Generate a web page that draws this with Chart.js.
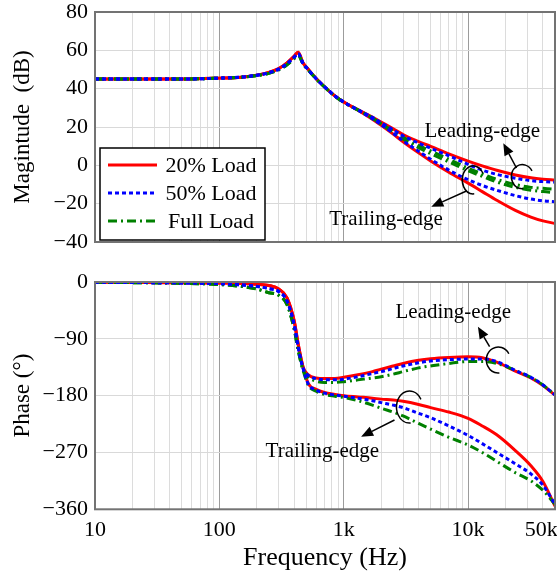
<!DOCTYPE html>
<html>
<head>
<meta charset="utf-8">
<script src="https://cdn.jsdelivr.net/npm/chart.js@4"></script>
<style>
  body { margin: 0; background: #fff; }
  #wrap { position: relative; width: 557px; height: 575px; }
  canvas { position: absolute; left: 0; }
  #magChart { top: 0; }
  #phaseChart { top: 250px; }
</style>
</head>
<body>
<div id="wrap">
  <canvas id="magChart" width="557" height="250"></canvas>
  <canvas id="phaseChart" width="557" height="325"></canvas>
</div>
<script>
// frequency points (Hz)
const freq = [10, 20, 50, 100, 150, 200, 250, 300, 350, 400, 430, 470, 520, 600, 700, 850, 1000,
  1300, 1700, 2000, 2500, 3000, 4000, 5000, 7000, 10000, 13000, 17000, 24000, 32000, 40000, 50000];

// magnitude (dB)
const magLead20 = [45, 45, 45, 45.5, 46, 47, 48.5, 50.5, 53.5, 57, 59, 53.5, 50, 45.3, 41, 36.2, 33,
  29.1, 25.2, 22.6, 19, 16.1, 12.4, 9.9, 6, 2.2, -0.3, -2.6, -5, -6.5, -7.2, -7.6];
const magLead50 = [45, 45, 45, 45.5, 46, 47, 48.3, 50.2, 53, 56.5, 58.3, 53.3, 49.8, 45.2, 41, 36.2, 33,
  29, 25, 22.2, 18.5, 15.4, 11.6, 8.9, 5, 0.5, -2.5, -4.7, -6.7, -8, -8.5, -8.8];
const magLeadFull = [45, 45, 45, 45.5, 46, 46.8, 48, 49.8, 52.5, 55.8, 57.5, 53, 49.6, 45.1, 40.9, 36.1, 32.9,
  28.9, 24.8, 21.8, 17.8, 14.6, 10.4, 7.5, 3.2, -1.5, -4.5, -7.3, -10, -11.5, -12, -12.5];
const magTrail20 = [45, 45, 45, 45.5, 46, 47, 48.5, 50.5, 53.5, 57, 59, 53.5, 50, 45.3, 41, 36.2, 33,
  28.8, 24.1, 20.9, 16.3, 12.3, 6.5, 2.3, -3.6, -9.3, -13.7, -18.2, -23.5, -27, -29, -30.3];
const magTrail50 = [45, 45, 45, 45.5, 46, 47, 48.3, 50.2, 53, 56.5, 58.3, 53.3, 49.8, 45.2, 41, 36.2, 33,
  28.8, 24.3, 21.2, 16.7, 12.8, 7.3, 3.2, -2.5, -7.5, -10.5, -13, -15.8, -17.6, -18.5, -19];
const magTrailFull = [45, 45, 45, 45.5, 46, 46.8, 48, 49.8, 52.5, 55.8, 57.5, 53, 49.6, 45.1, 40.9, 36.1, 32.9,
  28.9, 24.6, 21.5, 17.2, 13.7, 9.2, 6.1, 1.8, -2.8, -5.8, -8.7, -11.5, -13, -13.7, -14.2];

// phase (deg)
const phLead20 = [-0.5, -0.7, -1, -1.5, -2, -3.5, -5.5, -11, -25, -62, -98, -134, -147, -152, -153, -153, -151,
  -147, -142, -138, -133, -129, -124, -121.5, -119.5, -118.5, -120, -127, -141, -152, -164, -179];
const phLead50 = [-0.5, -0.8, -1.5, -2.5, -4.5, -7, -10.5, -15, -30, -68, -103, -136, -148, -153, -155, -155, -154,
  -150, -145, -142, -137, -133, -128, -125, -123, -122, -122, -126, -140, -151, -163, -179];
const phLeadFull = [-0.5, -1, -2, -4, -7, -11, -17, -21, -36, -75, -108, -139, -151, -157, -159, -159, -158,
  -155, -152, -150, -146, -142, -136, -133, -129, -126, -126, -129, -140, -151, -163, -179];
const phTrail20 = [-0.5, -0.7, -1, -1.5, -2, -3.5, -5.5, -11, -25, -62, -98, -134, -161, -170, -175, -178, -180,
  -182, -184, -185.5, -187, -189, -194, -199, -206, -216, -228, -242, -267, -291, -316, -355];
const phTrail50 = [-0.5, -0.8, -1.5, -2.5, -4.5, -7, -10.5, -15, -30, -68, -103, -136, -162, -171, -176, -179, -181,
  -184, -188, -191, -195, -199, -208, -215, -228, -243, -256, -270, -288, -304, -322, -352];
const phTrailFull = [-0.5, -1, -2, -4, -7, -11, -17, -21, -36, -75, -108, -139, -164, -173, -178, -181, -183,
  -188, -195, -200, -206, -212, -224, -233, -246, -258, -270, -284, -302, -315, -330, -352];

// x grid / tick positions and labels
const gridFreqs = [10, 20, 30, 40, 50, 60, 70, 80, 90, 100, 200, 300, 400, 500, 600, 700, 800, 900,
  1000, 2000, 3000, 4000, 5000, 6000, 7000, 8000, 9000, 10000, 20000, 30000, 40000, 50000];
const decades = [10, 100, 1000, 10000];
const freqLabels = {10: '10', 100: '100', 1000: '1k', 10000: '10k', 50000: '50k     '};
const legendLabels = ['20% Load', '50% Load', 'Full Load'];

const FONT = "'Liberation Serif', 'Times New Roman', serif";
const LOADS = [
  {color: '#ff0000', dash: [], order: 2},
  {color: '#0000ff', dash: [4, 3], order: 0},
  {color: '#008000', dash: [9, 4, 2, 4], order: 1}
];

function line(values, load, label) {
  return {
    label: label,
    data: freq.map((f, i) => ({x: f, y: values[i]})),
    borderColor: load.color,
    borderWidth: 3,
    borderDash: load.dash,
    borderCapStyle: 'butt',
    pointRadius: 0,
    fill: false,
    cubicInterpolationMode: 'monotone',
    order: load.order
  };
}

function minus(v) {
  return String(v).replace('-', '\u2212');
}

function xScale(showLabels) {
  return {
    type: 'logarithmic',
    min: 10,
    max: 50000,
    afterBuildTicks: s => { s.ticks = gridFreqs.map(v => ({value: v})); },
    afterFit: s => {
      s.height = showLabels ? 65.7 : 0;
      s.paddingLeft = 0;
      s.paddingRight = 0;
    },
    grid: {
      color: c => decades.includes(c.tick && c.tick.value) ? '#9c9c9c' : '#dcdcdc',
      lineWidth: 1,
      drawTicks: false
    },
    border: {display: false},
    ticks: {
      display: showLabels,
      autoSkip: false,
      maxRotation: 0,
      padding: 8,
      color: '#000',
      font: {family: FONT, size: 22},
      callback: v => freqLabels[v] || ''
    },
    title: {
      display: showLabels,
      text: 'Frequency (Hz)',
      color: '#000',
      font: {family: FONT, size: 26},
      padding: {top: 0, bottom: 1}
    }
  };
}

function yScale(min, max, step, title) {
  return {
    min: min,
    max: max,
    afterFit: s => { s.width = 95; s.paddingTop = 0; s.paddingBottom = 0; },
    grid: {color: '#d9d9d9', drawTicks: false},
    border: {display: false},
    ticks: {
      stepSize: step,
      padding: 7,
      color: '#000',
      font: {family: FONT, size: 22},
      callback: v => minus(v)
    },
    title: {
      display: true,
      text: title,
      color: '#000',
      font: {family: FONT, size: 23},
      padding: {top: 9, bottom: 0}
    }
  };
}

// frame around the plot area
const framePlugin = {
  id: 'frame',
  afterDraw(chart) {
    const {ctx, chartArea: a} = chart;
    ctx.save();
    ctx.strokeStyle = '#737373';
    ctx.lineWidth = 2;
    ctx.strokeRect(a.left, a.top, a.right - a.left, a.bottom - a.top);
    ctx.restore();
  }
};

// text, arrows and loops
const notesPlugin = {
  id: 'notes',
  afterDatasetsDraw(chart, args, opts) {
    const {ctx} = chart;
    const xs = chart.scales.x, ys = chart.scales.y;
    const px = (f, v) => [xs.getPixelForValue(f), ys.getPixelForValue(v)];
    ctx.save();
    ctx.strokeStyle = '#000';
    ctx.fillStyle = '#000';
    ctx.lineWidth = 1.5;
    ctx.setLineDash([]);
    (opts.items || []).forEach(n => {
      if (n.type === 'text') {
        const [x, y] = px(n.f, n.v);
        ctx.font = '21px ' + FONT;
        ctx.textAlign = 'center';
        ctx.textBaseline = 'middle';
        ctx.fillText(n.text, x, y);
      } else if (n.type === 'arrow') {
        const [x1, y1] = px(n.f1, n.v1);
        const [x2, y2] = px(n.f2, n.v2);
        const ang = Math.atan2(y2 - y1, x2 - x1);
        const len = 12, hw = 5;
        const bx = x2 - len * Math.cos(ang), by = y2 - len * Math.sin(ang);
        ctx.beginPath();
        ctx.moveTo(x1, y1);
        ctx.lineTo(bx, by);
        ctx.stroke();
        ctx.beginPath();
        ctx.moveTo(x2, y2);
        ctx.lineTo(bx + hw * Math.sin(ang), by - hw * Math.cos(ang));
        ctx.lineTo(bx - hw * Math.sin(ang), by + hw * Math.cos(ang));
        ctx.closePath();
        ctx.fill();
      } else if (n.type === 'loop') {
        const [x, y] = px(n.f, n.v);
        ctx.beginPath();
        ctx.ellipse(x, y, n.rx, n.ry, 0, -0.5, 1.48, true);
        ctx.stroke();
      }
    });
    ctx.restore();
  }
};

// legend box inside the magnitude plot
const boxLegendPlugin = {
  id: 'boxLegend',
  afterDraw(chart) {
    const {ctx, chartArea: a} = chart;
    const w = 165, h = 92;
    const bx = a.left + 5, by = a.bottom - 2 - h;
    ctx.save();
    ctx.fillStyle = '#fff';
    ctx.fillRect(bx, by, w, h);
    ctx.strokeStyle = '#000';
    ctx.lineWidth = 1.5;
    ctx.strokeRect(bx, by, w, h);
    LOADS.forEach((load, i) => {
      const y = by + 17 + i * 28;
      ctx.strokeStyle = load.color;
      ctx.lineWidth = 3;
      ctx.setLineDash(load.dash);
      ctx.beginPath();
      ctx.moveTo(bx + 8, y);
      ctx.lineTo(bx + 57, y);
      ctx.stroke();
      ctx.setLineDash([]);
      ctx.fillStyle = '#000';
      ctx.font = '22px ' + FONT;
      ctx.textAlign = 'center';
      ctx.textBaseline = 'middle';
      ctx.fillText(legendLabels[i], bx + 111, y + 1);
    });
    ctx.restore();
  }
};

const magChart = new Chart(document.getElementById('magChart'), {
  type: 'line',
  data: {
    datasets: [
      line(magLead20, LOADS[0], legendLabels[0]),
      line(magTrail20, LOADS[0], legendLabels[0]),
      line(magLead50, LOADS[1], legendLabels[1]),
      line(magTrail50, LOADS[1], legendLabels[1]),
      line(magLeadFull, LOADS[2], legendLabels[2]),
      line(magTrailFull, LOADS[2], legendLabels[2])
    ]
  },
  options: {
    responsive: false,
    animation: false,
    layout: {padding: {left: 0, right: 2, top: 12, bottom: 8}},
    plugins: {
      legend: {display: false},
      tooltip: {enabled: false},
      notes: {items: [
        {type: 'text', f: 13000, v: 17.9, text: 'Leading-edge'},
        {type: 'arrow', f1: 24500, v1: -1.4, f2: 19200, v2: 11.5},
        {type: 'loop', f: 27300, v: -5.9, rx: 11, ry: 12},
        {type: 'text', f: 2190, v: -28.5, text: 'Trailing-edge'},
        {type: 'arrow', f1: 9700, v1: -13.4, f2: 5060, v2: -21.6},
        {type: 'loop', f: 11000, v: -7.6, rx: 11, ry: 14}
      ]}
    },
    scales: {
      x: xScale(false),
      y: yScale(-40, 80, 20, 'Magintude  (dB)')
    }
  },
  plugins: [framePlugin, notesPlugin, boxLegendPlugin]
});

const phaseChart = new Chart(document.getElementById('phaseChart'), {
  type: 'line',
  data: {
    datasets: [
      line(phLead20, LOADS[0], legendLabels[0]),
      line(phTrail20, LOADS[0], legendLabels[0]),
      line(phLead50, LOADS[1], legendLabels[1]),
      line(phTrail50, LOADS[1], legendLabels[1]),
      line(phLeadFull, LOADS[2], legendLabels[2]),
      line(phTrailFull, LOADS[2], legendLabels[2])
    ]
  },
  options: {
    responsive: false,
    animation: false,
    layout: {padding: {left: 0, right: 2, top: 32, bottom: 0}},
    plugins: {
      legend: {display: false},
      tooltip: {enabled: false},
      notes: {items: [
        {type: 'text', f: 7600, v: -49, text: 'Leading-edge'},
        {type: 'arrow', f1: 14900, v1: -102.5, f2: 12000, v2: -70.8},
        {type: 'loop', f: 17500, v: -123.5, rx: 12, ry: 13},
        {type: 'text', f: 673, v: -269, text: 'Trailing-edge'},
        {type: 'arrow', f1: 2560, v1: -218.6, f2: 1380, v2: -245},
        {type: 'loop', f: 3380, v: -198, rx: 13, ry: 16}
      ]}
    },
    scales: {
      x: xScale(true),
      y: yScale(-360, 0, 90, 'Phase (\u00b0)')
    }
  },
  plugins: [framePlugin, notesPlugin]
});
</script>
</body>
</html>
